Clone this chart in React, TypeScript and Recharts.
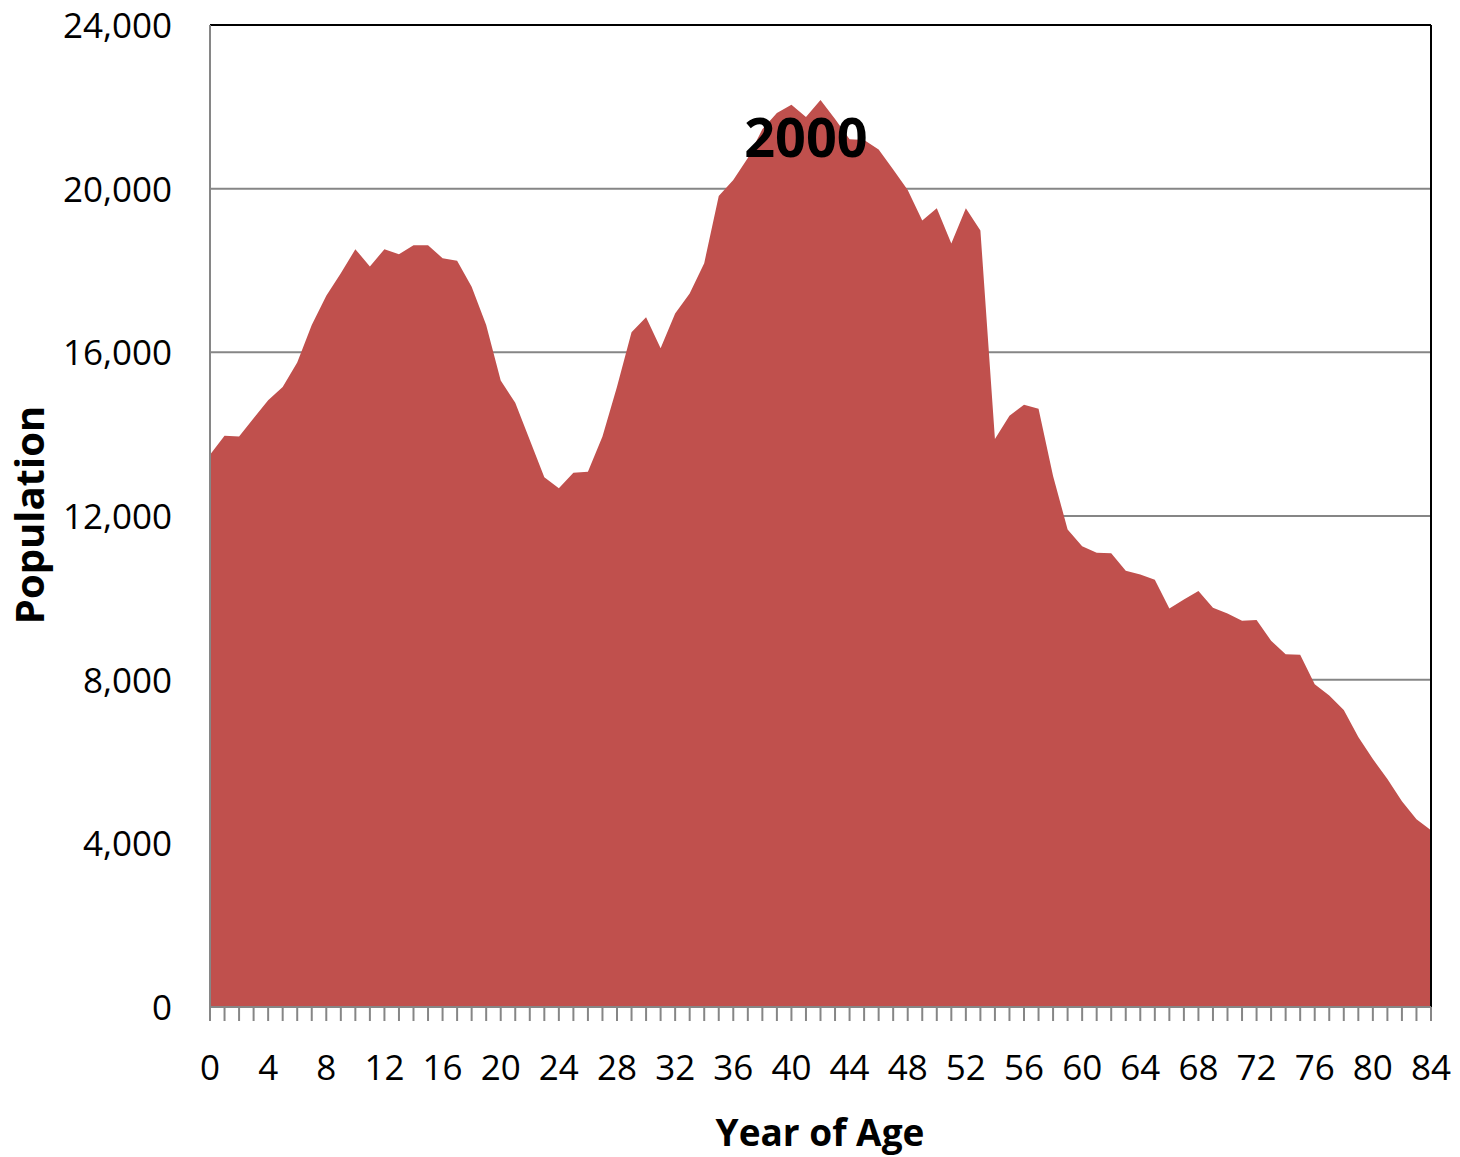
import React from 'react';
import { AreaChart, Area, XAxis, YAxis, CartesianGrid, ReferenceLine } from 'recharts';

// single years of age, 0..84
const ages = [
  0, 1, 2, 3, 4, 5, 6, 7, 8, 9, 10, 11, 12, 13, 14, 15, 16, 17, 18, 19, 20,
  21, 22, 23, 24, 25, 26, 27, 28, 29, 30, 31, 32, 33, 34, 35, 36, 37, 38, 39, 40,
  41, 42, 43, 44, 45, 46, 47, 48, 49, 50, 51, 52, 53, 54, 55, 56, 57, 58, 59, 60,
  61, 62, 63, 64, 65, 66, 67, 68, 69, 70, 71, 72, 73, 74, 75, 76, 77, 78, 79, 80,
  81, 82, 83, 84,
];

// population in 2000 by year of age
const population2000 = [
  13500, 13960, 13940, 14390, 14830, 15150, 15750, 16670, 17380, 17930, 18520,
  18100, 18520, 18400, 18620, 18620, 18300, 18240, 17600, 16670, 15310,
  14770, 13860, 12950, 12680, 13060, 13080, 13940, 15160, 16490, 16860,
  16100, 16950, 17440, 18180, 19820, 20210, 20750, 21450, 21850, 22050,
  21750, 22170, 21700, 21210, 21190, 20960, 20470, 19970, 19220, 19520,
  18660, 19520, 18980, 13880, 14450, 14720, 14620, 12980, 11670, 11260,
  11100, 11090, 10660, 10570, 10440, 9740, 9960, 10170, 9760, 9620,
  9440, 9460, 8950, 8620, 8610, 7890, 7610, 7260, 6600, 6060,
  5570, 5030, 4590, 4320,
];

const xTickLabels = [0, 4, 8, 12, 16, 20, 24, 28, 32, 36, 40, 44, 48, 52, 56, 60, 64, 68, 72, 76, 80, 84];
const yTicks = [0, 4000, 8000, 12000, 16000, 20000, 24000];

const data = ages.map((age, i) => ({ age, pop: population2000[i] }));

const FONT = '"Open Sans", "DejaVu Sans", sans-serif';
const GRAY = '#868686';

const XTick = (props: any) => {
  const { x, y, payload } = props;
  if (!xTickLabels.includes(payload.value)) return null;
  return (
    <text x={x} y={y + 57} textAnchor="middle" fontFamily={FONT} fontSize={35} fill="#000">
      {payload.value}
    </text>
  );
};

const YTick = (props: any) => {
  const { x, y, payload } = props;
  return (
    <text x={x} y={y + 13} textAnchor="end" fontFamily={FONT} fontSize={35} fill="#000">
      {payload.value.toLocaleString('en-US')}
    </text>
  );
};

export default function App() {
  return (
    <div style={{ position: 'absolute', left: 0, top: 0, width: 1460, height: 1157, background: '#fff' }}>
      <AreaChart
        width={1460}
        height={1157}
        data={data}
        margin={{ top: 25, right: 29, bottom: 0, left: 0 }}
      >
        <CartesianGrid vertical={false} stroke={GRAY} strokeWidth={2} />
        <XAxis
          dataKey="age"
          type="number"
          domain={[0, 84]}
          ticks={ages}
          interval={0}
          height={150}
          tickSize={14}
          tickMargin={2}
          axisLine={{ stroke: GRAY, strokeWidth: 2 }}
          tickLine={{ stroke: GRAY, strokeWidth: 2 }}
          tick={<XTick />}
        />
        <YAxis
          domain={[0, 24000]}
          ticks={yTicks}
          interval={0}
          width={210}
          tickSize={36}
          tickMargin={2}
          tickLine={false}
          axisLine={{ stroke: GRAY, strokeWidth: 2 }}
          tick={<YTick />}
        />
        <ReferenceLine y={24000} stroke="#000" strokeWidth={2} />
        <ReferenceLine x={84} stroke="#000" strokeWidth={2} />
        <Area
          type="linear"
          dataKey="pop"
          stroke="none"
          fill="#C0504D"
          fillOpacity={1}
          isAnimationActive={false}
        />
      </AreaChart>
      <svg
        width={1460}
        height={1157}
        style={{ position: 'absolute', left: 0, top: 0, pointerEvents: 'none' }}
      >
        <text x={806} y={157} textAnchor="middle" fontFamily={FONT} fontWeight={700} fontSize={54} fill="#000">
          2000
        </text>
        <text x={820} y={1146} textAnchor="middle" fontFamily={FONT} fontWeight={700} fontSize={37} fill="#000">
          Year of Age
        </text>
        <text
          x={44}
          y={515}
          textAnchor="middle"
          fontFamily={FONT}
          fontWeight={700}
          fontSize={40}
          fill="#000"
          transform="rotate(-90 44 515)"
        >
          Population
        </text>
      </svg>
    </div>
  );
}
